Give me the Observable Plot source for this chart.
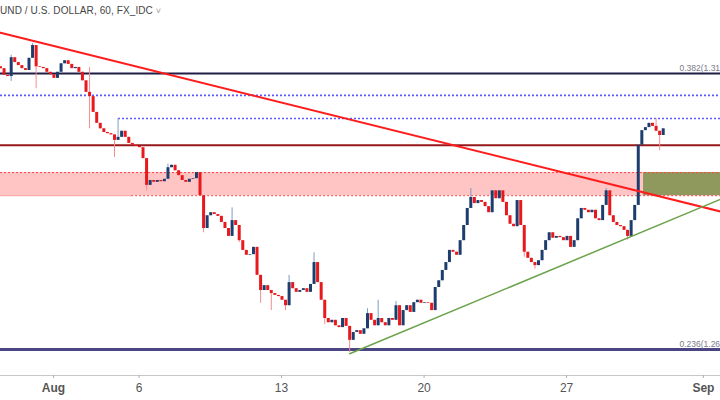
<!DOCTYPE html>
<html>
<head>
<meta charset="utf-8">
<script src="https://cdn.jsdelivr.net/npm/d3@7"></script>
<script src="https://cdn.jsdelivr.net/npm/@observablehq/plot@0.6"></script>
<style>
  html, body { margin: 0; padding: 0; background: #fff; overflow: hidden; }
  #wrap { position: relative; width: 720px; height: 400px; }
  #title { position: absolute; left: 0; top: 5px; font: 10px "Liberation Sans", Arial, sans-serif; color: #454545; white-space: nowrap; letter-spacing: 0.1px; }
  #title span { color: #999; font-size: 9px; }
</style>
</head>
<body>
<div id="wrap">
  <div id="chart"></div>
  <div id="title">UND / U.S. DOLLAR, 60, FX_IDC <span>˅</span></div>
</div>
<script>
const firstBarDay = -1.86;   // trading-day index of first bar (Aug 1 = 0)
const barStep = 0.125;       // 3 hours in trading days
const firstOpen = 1.3128;
const closes = [
  1.3125,1.3114,1.3112,1.3143,1.3135,1.3130,1.3125,1.3122,1.3142,1.3163,
  1.3128,1.3127,1.3125,1.3119,1.3115,1.3109,1.3119,1.3133,1.3138,1.3132,
  1.3125,1.3127,1.3119,1.3105,1.3086,1.3079,1.3053,1.3035,1.3026,1.3020,
  1.3018,1.3016,1.3007,1.3012,1.3022,1.3012,1.3002,1.2999,1.2997,1.2995,
  1.2977,1.2933,1.2941,1.2938,1.2941,1.2939,1.2943,1.2962,1.2966,1.2957,
  1.2949,1.2941,1.2938,1.2943,1.2944,1.2954,1.2916,1.2862,1.2883,1.2888,
  1.2885,1.2882,1.2872,1.2862,1.2849,1.2875,1.2867,1.2842,1.2826,1.2818,
  1.2819,1.2831,1.2785,1.2760,1.2768,1.2760,1.2755,1.2752,1.2750,1.2744,
  1.2735,1.2773,1.2763,1.2757,1.2760,1.2763,1.2757,1.2770,1.2806,1.2773,
  1.2744,1.2714,1.2707,1.2711,1.2702,1.2699,1.2714,1.2701,1.2678,1.2691,
  1.2694,1.2688,1.2697,1.2722,1.2711,1.2702,1.2714,1.2707,1.2702,1.2714,
  1.2711,1.2735,1.2702,1.2727,1.2735,1.2724,1.2740,1.2744,1.2739,1.2740,
  1.2739,1.2727,1.2765,1.2776,1.2793,1.2806,1.2826,1.2823,1.2818,1.2842,
  1.2867,1.2895,1.2913,1.2903,1.2908,1.2905,1.2898,1.2888,1.2924,1.2911,
  1.2924,1.2905,1.2883,1.2869,1.2865,1.2908,1.2867,1.2823,1.2813,1.2806,
  1.2801,1.2809,1.2826,1.2842,1.2855,1.2846,1.2849,1.2847,1.2842,1.2849,
  1.2831,1.2842,1.2878,1.2895,1.2892,1.2888,1.2892,1.2878,1.2875,1.2900,
  1.2924,1.2883,1.2872,1.2867,1.2865,1.2859,1.2849,1.2875,1.2900,1.2999,
  1.3023,1.3028,1.3035,1.3030,1.3022,1.3015,1.3026
];
// notable wicks: [bar index, high, low]
const wicks = [
  [3, 1.3147, 1.3104], [9, 1.3166, null], [10, null, 1.3092], [25, 1.3127, 1.3026],
  [32, null, 1.2979], [33, 1.3043, null], [41, null, 1.2924], [47, 1.2968, null],
  [57, null, 1.2855], [65, 1.2896, null], [67, null, 1.2839], [73, null, 1.2739],
  [76, null, 1.2727], [80, null, 1.2727], [81, 1.2785, null], [88, 1.2822, null],
  [91, null, 1.2704], [98, null, 1.2658], [103, 1.2730, null], [106, 1.2744, null],
  [111, 1.2742, null], [122, null, 1.2752], [132, 1.2928, null], [147, null, 1.2815],
  [150, null, 1.2795], [170, 1.2928, null], [176, null, 1.2843], [184, 1.3043, null],
  [185, null, 1.2990]
];

// levels
const fibLevels = [0.382, 0.236];
const fibPrices = [1.3117, 1.2663];
const fibLabels = ["0.382(1.31", "0.236(1.26"];   // as cut off at the chart's right edge
const bluePrices = [1.3081, 1.3043];
const blueStarts = [-1.86, 2.28];
const resistancePrice = 1.2999;
const zoneTop = 1.2954, zoneBottom = 1.2916;
const zoneBottomLineStart = 2.74;
const oliveStart = 20.70;

// trendlines: [day, price]
const redTrend = [[-1.86, 1.3184], [23.40, 1.2890]];
const greenTrend = [[10.39, 1.2656], [23.40, 1.2910]];

// x-axis ticks (trading-day index) and labels
const tickDays = [0, 3, 8, 13, 18, 22.8];
const tickLabels = ["Aug", "6", "13", "20", "27", "Sep"];

const xDomain = [-1.86, 23.40];
const yDomain = [1.26202, 1.32371];

// ---- build candles ----
const bars = closes.map((c, i) => {
  const o = i === 0 ? firstOpen : closes[i - 1];
  return { t: firstBarDay + i * barStep, o, c, hi: Math.max(o, c), lo: Math.min(o, c), up: c >= o };
});
for (const [i, h, l] of wicks) {
  if (h != null) bars[i].hi = Math.max(bars[i].hi, h);
  if (l != null) bars[i].lo = Math.min(bars[i].lo, l);
}

const upBody = "#1d3d6e", downBody = "#e8191c";
const upWick = "#7e9cc4", downWick = "#f58c8c";

const levelRows = bluePrices.map((p, i) => ({ p, x1: blueStarts[i] }));

const chart = Plot.plot({
  width: 720,
  height: 400,
  marginTop: 0,
  marginBottom: 25,
  marginLeft: 0,
  marginRight: 0,
  style: { background: "#fff", fontFamily: "Liberation Sans, Arial, sans-serif" },
  x: { domain: xDomain, axis: null },
  y: { domain: yDomain, axis: null },
  marks: [
    // pink zone
    Plot.rect([0], { x1: xDomain[0], x2: xDomain[1], y1: zoneBottom, y2: zoneTop, fill: "#ffc4c4" }),
    // olive box
    Plot.rect([0], { x1: oliveStart, x2: xDomain[1], y1: zoneBottom, y2: zoneTop, fill: "#8f995d" }),
    Plot.ruleY([zoneTop], { stroke: "#ff4040", strokeWidth: 1, strokeDasharray: "2,2" }),
    Plot.ruleY([zoneBottom], { x1: zoneBottomLineStart, x2: xDomain[1], stroke: "#ff4040", strokeWidth: 1, strokeDasharray: "2,2" }),
    Plot.ruleY([zoneBottom], { x1: xDomain[0], x2: zoneBottomLineStart, stroke: "#ff9a9a", strokeWidth: 1 }),
    // blue dotted levels
    Plot.ruleY(levelRows, { y: "p", x1: "x1", x2: xDomain[1], stroke: "#5a5aff", strokeWidth: 1.6, strokeDasharray: "2,2" }),
    // fib lines
    Plot.ruleY([fibPrices[0]], { stroke: "#1f1c46", strokeWidth: 1.8 }),
    Plot.ruleY([fibPrices[1]], { stroke: "#4a4684", strokeWidth: 3 }),
    // resistance line
    Plot.ruleY([resistancePrice], { stroke: "#96181a", strokeWidth: 2 }),
    // candles: wicks then bodies
    Plot.ruleX(bars, { x: "t", y1: "lo", y2: "hi", stroke: d => d.up ? upWick : downWick, strokeWidth: 1 }),
    Plot.ruleX(bars, { x: "t", y1: "o", y2: "c", stroke: d => d.up ? upBody : downBody, strokeWidth: 3 }),
    // trendlines
    Plot.line(redTrend, { x: d => d[0], y: d => d[1], stroke: "#ff1c1c", strokeWidth: 2 }),
    Plot.line(greenTrend, { x: d => d[0], y: d => d[1], stroke: "#6ba24a", strokeWidth: 1.5 }),
    // fib labels
    Plot.text(fibLevels, { x: 21.96, y: (d, i) => fibPrices[i], text: (d, i) => fibLabels[i], textAnchor: "start", dy: -5, fontSize: 8.5, fill: "#7a7a8a" }),
    // x axis
    Plot.ruleY([yDomain[0]], { stroke: "#c8c8c8", strokeWidth: 1 }),
    Plot.axisX({ ticks: tickDays, tickFormat: (d, i) => tickLabels[i], tickSize: 3, tickPadding: 5, fontSize: 12, stroke: "#b0b0b0", color: "#555" })
  ]
});

document.getElementById("chart").appendChild(chart);
d3.select(chart).selectAll("text").filter(function () {
  const t = this.textContent; return t === "Aug" || t === "Sep";
}).attr("font-weight", "bold");
</script>
</body>
</html>
